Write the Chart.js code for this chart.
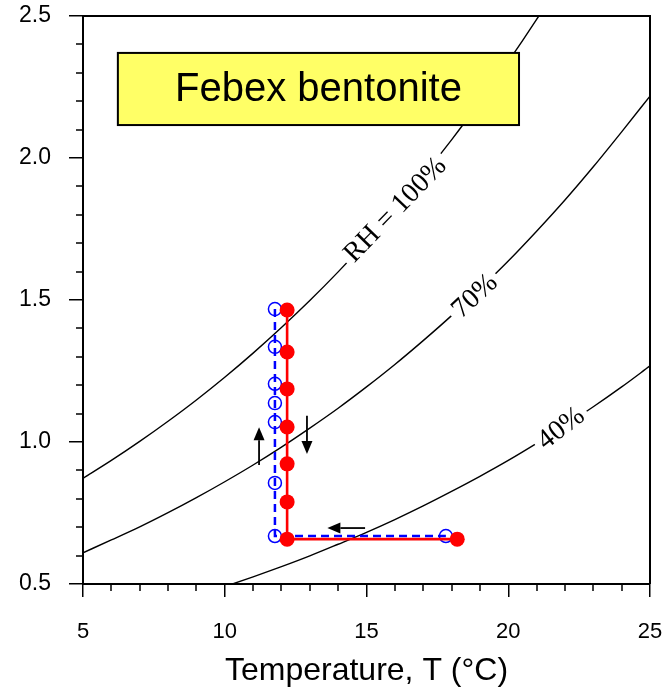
<!DOCTYPE html>
<html>
<head>
<meta charset="utf-8">
<script src="https://cdn.jsdelivr.net/npm/chart.js@4.4.0/dist/chart.umd.min.js"></script>
<style>
html, body { margin: 0; padding: 0; background: #fff; }
#wrap { width: 663px; height: 693px; position: relative; }
</style>
</head>
<body>
<div id="wrap"><canvas id="mycanvas"></canvas></div>
<script>
// RH curves, vapour pressure (kPa) read at each whole degree
var temps = [5, 6, 7, 8, 9, 10, 11, 12, 13, 14, 15, 16, 17, 18, 19, 20, 21, 22, 23, 24, 25];
var rh100 = [0.872, 0.935, 1.002, 1.073, 1.148, 1.228, 1.313, 1.403, 1.498, 1.599, 1.706, 1.819, 1.938, 2.064, 2.198, 2.339, 2.488, 2.645, 2.809, 2.981, 3.169];
var rh70  = [0.610, 0.655, 0.701, 0.751, 0.804, 0.860, 0.919, 0.982, 1.049, 1.119, 1.194, 1.273, 1.357, 1.445, 1.539, 1.637, 1.742, 1.852, 1.969, 2.092, 2.218];
var rh40  = [0.349, 0.374, 0.401, 0.429, 0.459, 0.491, 0.525, 0.561, 0.599, 0.640, 0.682, 0.727, 0.775, 0.826, 0.879, 0.935, 0.995, 1.058, 1.124, 1.194, 1.268];

// measured points (red filled / blue open)
var filledT = [18.2, 12.2, 12.2, 12.2, 12.2, 12.2, 12.2, 12.2];
var filledP = [0.658, 0.658, 0.789, 0.923, 1.053, 1.187, 1.317, 1.465];
var openT   = [11.77, 11.77, 11.77, 11.77, 11.77, 11.77, 11.77, 17.8];
var openP   = [1.468, 1.335, 1.205, 1.137, 1.070, 0.856, 0.669, 0.669];

// curve labels: text, T, p, angle (deg)
var curveLabels = [
  ['RH = 100%', 16.0, 1.819, -46],
  ['70%', 18.8, 1.515, -43],
  ['40%', 21.85, 1.050, -38]
];

// arrows: [T from, p from, T to, p to]
var arrows = [
  [11.21, 0.919, 11.21, 1.052],
  [12.90, 1.092, 12.90, 0.958],
  [14.95, 0.697, 13.62, 0.697]
];

var yTicks = [0.5, 1.0, 1.5, 2.0, 2.5];
var xTicks = [5, 10, 15, 20, 25];

function pts(xs, ys) {
  var out = [];
  for (var i = 0; i < xs.length; i++) out.push({x: xs[i], y: ys[i]});
  return out;
}

var SANS = "'Liberation Sans', Arial, sans-serif";
var SERIF = "'Liberation Serif', 'Times New Roman', serif";

var extras = {
  id: 'extras',
  afterDatasetsDraw: function(chart) {
    var ctx = chart.ctx, xs = chart.scales.x, ys = chart.scales.y;
    ctx.save();
    // curve labels with a white gap in the line
    ctx.font = '28px ' + SERIF;
    ctx.textAlign = 'center';
    ctx.textBaseline = 'middle';
    curveLabels.forEach(function(l) {
      var px = xs.getPixelForValue(l[1]), py = ys.getPixelForValue(l[2]);
      var w = ctx.measureText(l[0]).width;
      ctx.save();
      ctx.translate(px, py);
      ctx.rotate(l[3] * Math.PI / 180);
      ctx.fillStyle = '#fff';
      ctx.fillRect(-w / 2 - 5, -8, w + 10, 16);
      ctx.fillStyle = '#000';
      ctx.fillText(l[0], 0, 1);
      ctx.restore();
    });
    ctx.restore();
  },
  afterDraw: function(chart) {
    var ctx = chart.ctx, xs = chart.scales.x, ys = chart.scales.y, a = chart.chartArea;
    ctx.save();
    // arrows
    ctx.strokeStyle = '#000';
    ctx.fillStyle = '#000';
    ctx.lineWidth = 1.8;
    arrows.forEach(function(ar) {
      var x1 = xs.getPixelForValue(ar[0]), y1 = ys.getPixelForValue(ar[1]);
      var x2 = xs.getPixelForValue(ar[2]), y2 = ys.getPixelForValue(ar[3]);
      var ang = Math.atan2(y2 - y1, x2 - x1);
      var hl = 13, hw = 5.5;
      ctx.beginPath();
      ctx.moveTo(x1, y1);
      ctx.lineTo(x2 - hl * Math.cos(ang), y2 - hl * Math.sin(ang));
      ctx.stroke();
      ctx.beginPath();
      ctx.moveTo(x2, y2);
      ctx.lineTo(x2 - hl * Math.cos(ang) - hw * Math.sin(ang), y2 - hl * Math.sin(ang) + hw * Math.cos(ang));
      ctx.lineTo(x2 - hl * Math.cos(ang) + hw * Math.sin(ang), y2 - hl * Math.sin(ang) - hw * Math.cos(ang));
      ctx.closePath();
      ctx.fill();
    });
    // title box
    var bx1 = xs.getPixelForValue(6.23), bx2 = xs.getPixelForValue(20.38);
    var by1 = ys.getPixelForValue(2.37), by2 = ys.getPixelForValue(2.116);
    ctx.fillStyle = '#ffff66';
    ctx.fillRect(bx1, by1, bx2 - bx1, by2 - by1);
    ctx.lineWidth = 2;
    ctx.strokeRect(bx1, by1, bx2 - bx1, by2 - by1);
    ctx.fillStyle = '#000';
    ctx.font = '40px ' + SANS;
    ctx.textAlign = 'center';
    ctx.textBaseline = 'middle';
    ctx.fillText('Febex bentonite', (bx1 + bx2) / 2, (by1 + by2) / 2 + 1);
    // frame top/right
    ctx.lineWidth = 2;
    ctx.beginPath();
    ctx.moveTo(a.left, a.top);
    ctx.lineTo(a.right, a.top);
    ctx.lineTo(a.right, a.bottom);
    ctx.stroke();
    // minor ticks
    ctx.lineWidth = 1.5;
    ctx.beginPath();
    for (var t = 6; t < 25; t++) {
      if (t % 5 === 0) continue;
      var px = Math.round(xs.getPixelForValue(t));
      ctx.moveTo(px, a.bottom);
      ctx.lineTo(px, a.bottom + 7);
    }
    for (var k = 6; k < 25; k++) {
      if (k % 5 === 0) continue;
      var py = Math.round(ys.getPixelForValue(k / 10));
      ctx.moveTo(a.left, py);
      ctx.lineTo(a.left - 7, py);
    }
    ctx.stroke();
    ctx.restore();
  }
};

function curve(data) {
  return {
    data: pts(temps, data),
    borderColor: '#000',
    borderWidth: 1.4,
    pointRadius: 0,
    fill: false,
    cubicInterpolationMode: 'monotone',
    order: 3
  };
}

function noPad(s) {
  s.paddingTop = 0;
  s.paddingBottom = 0;
  s.paddingLeft = 0;
  s.paddingRight = 0;
}

var ctx = document.getElementById('mycanvas');
var mycanvas = new Chart(ctx, {
  type: 'line',
  data: {
    datasets: [
      {
        data: pts(filledT, filledP),
        borderColor: '#ff0000',
        backgroundColor: '#ff0000',
        borderWidth: 2.6,
        pointRadius: 7.5,
        pointBorderWidth: 0,
        pointBackgroundColor: '#ff0000',
        tension: 0,
        order: 1
      },
      {
        data: pts(openT, openP),
        borderColor: '#0000ff',
        borderWidth: 2.5,
        borderDash: [8, 5],
        pointRadius: 6.5,
        pointBorderWidth: 1.5,
        pointBorderColor: '#0000ff',
        pointBackgroundColor: 'rgba(255,255,255,0)',
        tension: 0,
        order: 2
      },
      curve(rh100),
      curve(rh70),
      curve(rh40)
    ]
  },
  options: {
    responsive: true,
    maintainAspectRatio: false,
    animation: false,
    events: [],
    layout: { autoPadding: false, padding: { top: 16, right: 13, left: 0, bottom: 0 } },
    plugins: { legend: { display: false }, tooltip: { enabled: false } },
    scales: {
      x: {
        type: 'linear',
        min: 5,
        max: 25,
        afterFit: function(s) { s.height = 109; noPad(s); },
        afterBuildTicks: function(s) { s.ticks = xTicks.map(function(v) { return {value: v}; }); },
        ticks: { color: '#000', font: { family: SANS, size: 22 }, padding: 22, maxRotation: 0 },
        grid: { drawOnChartArea: false, drawTicks: true, tickLength: 13, color: '#000', lineWidth: 1.5 },
        border: { display: true, color: '#000', width: 2 },
        title: { display: true, text: 'Temperature, T (°C)', color: '#000', font: { family: SANS, size: 32 }, padding: { top: 0, bottom: 3 } }
      },
      y: {
        type: 'linear',
        min: 0.5,
        max: 2.5,
        afterFit: function(s) { s.width = 83; noPad(s); },
        afterBuildTicks: function(s) { s.ticks = yTicks.map(function(v) { return {value: v}; }); },
        ticks: {
          color: '#000',
          font: { family: SANS, size: 23 },
          padding: 18,
          callback: function(v) { return Number(v).toFixed(1); }
        },
        grid: { drawOnChartArea: false, drawTicks: true, tickLength: 14, color: '#000', lineWidth: 1.5 },
        border: { display: true, color: '#000', width: 2 }
      }
    }
  },
  plugins: [extras]
});
</script>
</body>
</html>
